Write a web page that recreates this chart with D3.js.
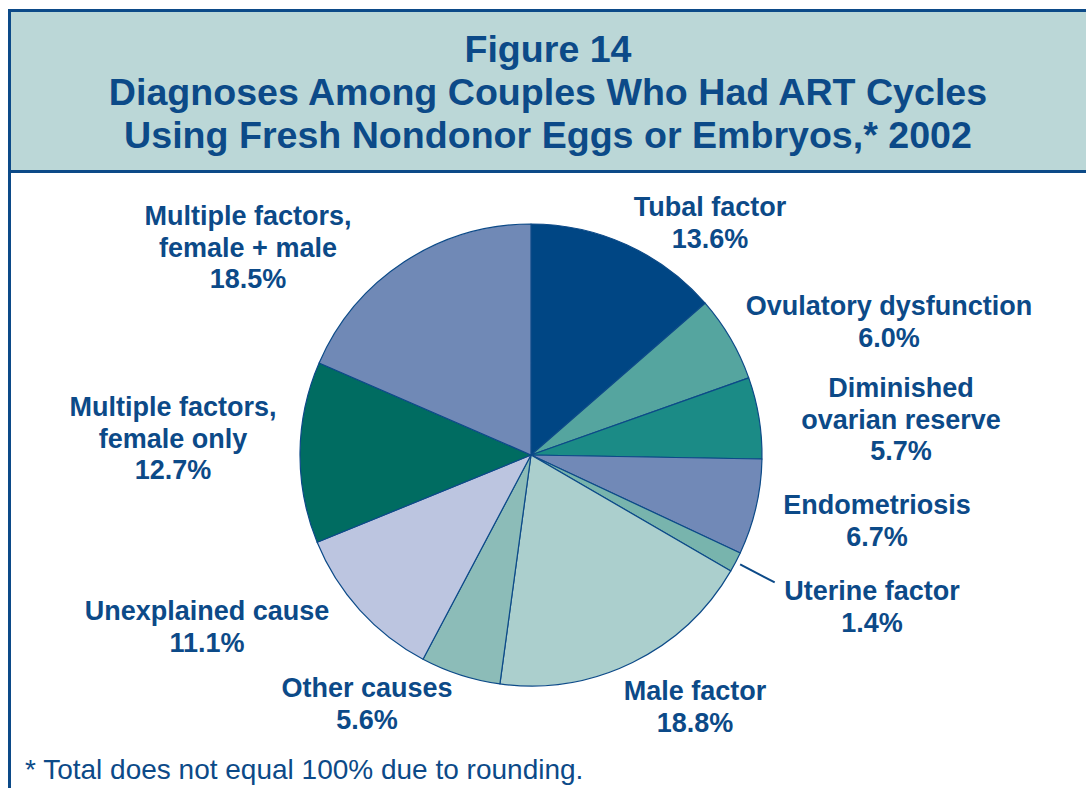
<!DOCTYPE html>
<html>
<head>
<meta charset="utf-8">
<script src="https://cdn.jsdelivr.net/npm/d3@7"></script>
<style>
  body { margin: 0; background: #fff; }
  text { font-family: "Liberation Sans", Arial, Helvetica, sans-serif; }
</style>
</head>
<body>
<script>

// data
var categories = ["Tubal factor", "Ovulatory dysfunction", "Diminished ovarian reserve",
    "Endometriosis", "Uterine factor", "Male factor", "Other causes",
    "Unexplained cause", "Multiple factors, female only", "Multiple factors, female + male"];
var percents = [13.6, 6.0, 5.7, 6.7, 1.4, 18.8, 5.6, 11.1, 12.7, 18.5];
var labelLines = [
    ["Tubal factor"],
    ["Ovulatory dysfunction"],
    ["Diminished", "ovarian reserve"],
    ["Endometriosis"],
    ["Uterine factor"],
    ["Male factor"],
    ["Other causes"],
    ["Unexplained cause"],
    ["Multiple factors,", "female only"],
    ["Multiple factors,", "female + male"]
];
var sliceColors = ["#004684", "#55a59f", "#1b8b86", "#7189b7", "#78b4ad",
    "#abcfcd", "#8cbcb8", "#bcc5e0", "#006c61", "#7089b6"];
var titleLines = ["Figure 14", "Diagnoses Among Couples Who Had ART Cycles",
    "Using Fresh Nondonor Eggs or Embryos,* 2002"];
var footnote = "* Total does not equal 100% due to rounding.";

// layout: where each label block sits (center x, first baseline)
var labelAnchors = [[710, 216], [889, 315], [901, 397], [877, 514], [872, 600],
    [695, 700], [367, 697], [207, 620], [173, 416], [248, 225]];

var width = 1086, height = 788;
var ink = "#0c4a88";

var svg = d3.select("body").append("svg")
    .attr("width", width)
    .attr("height", height);

// title box
svg.append("rect")
    .attr("x", 9.5).attr("y", 10.5)
    .attr("width", 1100).attr("height", 161)
    .attr("fill", "#bbd7d7")
    .attr("stroke", ink)
    .attr("stroke-width", 3);

svg.append("line")
    .attr("x1", 9.5).attr("x2", 9.5)
    .attr("y1", 170).attr("y2", height)
    .attr("stroke", ink)
    .attr("stroke-width", 3);

svg.selectAll(".title")
    .data(titleLines)
    .enter().append("text")
    .attr("class", "title")
    .attr("x", 548)
    .attr("y", function(d, i) { return 62 + i * 43; })
    .attr("text-anchor", "middle")
    .attr("font-size", 37.6)
    .attr("font-weight", "bold")
    .attr("fill", ink)
    .text(function(d) { return d; });

// pie
var cx = 531, cy = 455, radius = 231;

var pie = d3.pie().sort(null).value(function(d) { return d; });
var arcs = pie(percents);
var arc = d3.arc().innerRadius(0).outerRadius(radius);

var g = svg.append("g")
    .attr("transform", "translate(" + cx + "," + cy + ")");

g.selectAll("path")
    .data(arcs)
    .enter().append("path")
    .attr("d", arc)
    .attr("fill", function(d, i) { return sliceColors[i]; })
    .attr("stroke", ink)
    .attr("stroke-width", 1.2)
    .attr("stroke-linejoin", "round");

// leader line for the thin uterine slice
var u = arcs[4];
var mid = (u.startAngle + u.endAngle) / 2;
g.append("line")
    .attr("x1", Math.sin(mid) * (radius + 5))
    .attr("y1", -Math.cos(mid) * (radius + 5))
    .attr("x2", Math.sin(mid) * (radius + 44))
    .attr("y2", -Math.cos(mid) * (radius + 44))
    .attr("stroke", ink)
    .attr("stroke-width", 2);

// labels
var labels = svg.selectAll(".lbl")
    .data(categories)
    .enter().append("text")
    .attr("class", "lbl")
    .attr("text-anchor", "middle")
    .attr("font-size", 27)
    .attr("font-weight", "bold")
    .attr("fill", ink);

labels.each(function(d, i) {
    var t = d3.select(this);
    var lines = labelLines[i].concat([percents[i].toFixed(1) + "%"]);
    lines.forEach(function(s, j) {
        t.append("tspan")
            .attr("x", labelAnchors[i][0])
            .attr("y", labelAnchors[i][1] + j * 31.5)
            .text(s);
    });
});

svg.append("text")
    .attr("x", 25)
    .attr("y", 779)
    .attr("font-size", 28)
    .attr("fill", ink)
    .text(footnote);

</script>
</body>
</html>
